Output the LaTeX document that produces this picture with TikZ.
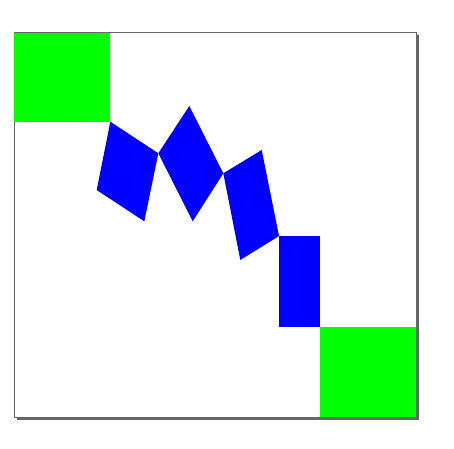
\documentclass[tikz,border=0pt]{standalone}
\begin{document}
\begin{tikzpicture}[x=1pt,y=-1pt,
  framecol/.style={draw=black!60,line width=0.8pt},
  greenbox/.style={fill={rgb,255:red,0;green,255;blue,0}},
  bluebox/.style={fill={rgb,255:red,0;green,0;blue,255}}]
\useasboundingbox (0,0) rectangle (454,448);
% shadow
\fill[black!60] (16.5,35) rectangle (419,419.5);
% frame
\filldraw[fill=white,framecol] (14,32.5) rectangle (416.5,417);
% green squares
\fill[greenbox] (14,32.5) rectangle (110.3,121.7);
\fill[greenbox] (319.7,327) rectangle (416.1,416.6);
% blue parallelograms
\fill[bluebox] (110.3,121.7) -- (158.3,153.3) -- (144.3,221.3) -- (96.7,190) -- cycle;
\fill[bluebox] (189.3,106) -- (223.3,173.3) -- (192.7,221.3) -- (158.3,153.3) -- cycle;
\fill[bluebox] (223.3,173.3) -- (261.7,150) -- (279,236) -- (240.3,260) -- cycle;
\fill[bluebox] (279,236) rectangle (319.7,327);
\end{tikzpicture}
\end{document}
